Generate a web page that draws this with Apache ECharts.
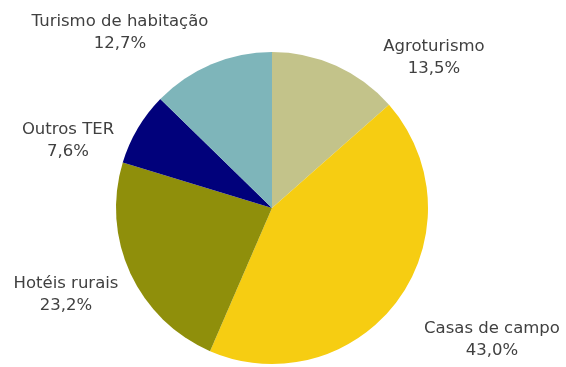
<!DOCTYPE html>
<html>
<head>
<meta charset="utf-8">
<script src="https://cdn.jsdelivr.net/npm/echarts@6/dist/echarts.min.js"></script>
<style>
  html, body { margin: 0; padding: 0; background: #ffffff; }
  #chart { width: 566px; height: 367px; }
</style>
</head>
<body>
<div id="chart"></div>
<script>
// Share of rural tourism (TER) by type of establishment, in %
const categories = ['Agroturismo', 'Casas de campo', 'Hotéis rurais', 'Outros TER', 'Turismo de habitação'];
const shares = [13.5, 43.0, 23.2, 7.6, 12.7];
const sliceColors = ['#c3c38a', '#f6cd12', '#8f8f0b', '#01017b', '#7eb5ba'];

// Label anchor points (centre of each two-line label)
const labelX = [434, 492, 66, 68, 120];
const labelY = [58, 340, 295, 141, 33];

const chart = echarts.init(document.getElementById('chart'), null, { renderer: 'canvas' });

const pieData = categories.map((name, i) => ({
  name: name,
  value: shares[i],
  itemStyle: { color: sliceColors[i] }
}));

chart.setOption({
  animation: false,
  backgroundColor: '#ffffff',
  series: [{
    type: 'pie',
    center: [272, 208],
    radius: 156,
    startAngle: 90,
    clockwise: true,
    data: pieData,
    itemStyle: { borderWidth: 0 },
    label: {
      show: true,
      position: 'outside',
      formatter: p => p.name + '\n' + p.value.toFixed(1).replace('.', ',') + '%',
      fontFamily: 'DejaVu Sans',
      fontSize: 16.5,
      lineHeight: 22,
      color: '#404040',
      align: 'center',
      overflow: 'none',
      width: 300
    },
    labelLine: { show: false },
    labelLayout: p => ({
      x: labelX[p.dataIndex],
      y: labelY[p.dataIndex],
      align: 'center',
      verticalAlign: 'middle'
    }),
    emphasis: { disabled: true }
  }]
});
</script>
</body>
</html>
